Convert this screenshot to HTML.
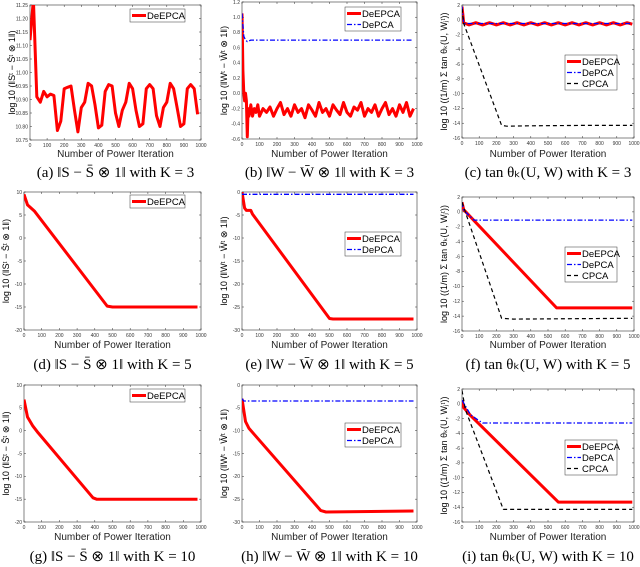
<!DOCTYPE html>
<html><head><meta charset="utf-8"><style>
body{margin:0;background:#fff;width:640px;height:567px;overflow:hidden}
svg{display:block}
text{font-family:"Liberation Sans",sans-serif}
.cap{font-family:"Liberation Serif",serif;font-size:15px}
</style></head><body>
<svg id="fig" width="640" height="567" viewBox="0 0 640 567" xmlns="http://www.w3.org/2000/svg"></svg>
<script>
const xA=[0,20,40,60,80,100,120,140,160,180,200,220,240,260,280,300,320,340,360,380,400,420,440,460,480,500,520,540,560,580,600,620,640,660,680,700,720,740,760,780,800,820,840,860,880,900,920,940,960,980];
const yA=[11.12,11.27,10.91,10.89,10.93,10.91,10.92,10.915,10.785,10.82,10.94,10.945,10.95,10.86,10.78,10.87,10.89,10.96,10.95,10.88,10.795,10.805,10.93,10.955,10.95,10.85,10.80,10.86,10.89,10.96,10.94,10.86,10.80,10.81,10.94,10.955,10.94,10.84,10.80,10.87,10.89,10.96,10.94,10.87,10.80,10.81,10.94,10.955,10.94,10.845];
const xB=[0,5,10,15,20,25,30,35,40,50,60,70,80,90,100,120,140,160,180,200,220,240,260,280,300,320,340,360,380,400,420,440,460,480,500,520,540,560,580,600,620,640,660,680,700,720,740,760,780,800,820,840,860,880,900,920,940,960,980];
const yB1=[1.05,0.3,0.0,-0.1,0.0,-0.1,-0.57,-0.2,-0.3,-0.15,-0.3,-0.2,-0.25,-0.15,-0.3,-0.2,-0.25,-0.18,-0.3,-0.2,-0.12,-0.28,-0.2,-0.3,-0.15,-0.25,-0.2,-0.32,-0.15,-0.22,-0.3,-0.12,-0.25,-0.2,-0.3,-0.15,-0.22,-0.28,-0.12,-0.25,-0.3,-0.18,-0.22,-0.12,-0.3,-0.2,-0.25,-0.15,-0.3,-0.2,-0.12,-0.28,-0.2,-0.3,-0.15,-0.25,-0.12,-0.3,-0.2];
const xB2=[0,5,10,20,30,50,100,500,980];
const yB2=[1.05,0.9,0.75,0.7,0.68,0.7,0.7,0.7,0.7];
const xC=[0,10,40,80,120,160,200,240,280,320,360,400,440,480,520,560,600,640,680,720,760,800,840,880,920,960,990];
const yC1=[1.8,-0.4,-0.7,-0.4,-0.7,-0.4,-0.7,-0.4,-0.7,-0.4,-0.7,-0.4,-0.7,-0.4,-0.7,-0.4,-0.7,-0.4,-0.7,-0.4,-0.7,-0.4,-0.7,-0.4,-0.7,-0.4,-0.6];
const xC2=[0,10,990]; const yC2=[1.8,-0.5,-0.5];
const xC3=[0,10,230,260,400,700,990]; const yC3=[1.5,-0.5,-14.3,-14.4,-14.35,-14.3,-14.3];
const xD=[0,20,60,470,500,980]; const yD=[9.5,7.2,5.8,-14.8,-15,-15];
const xE1=[0,15,25,50,60,500,520,980]; const yE1=[0,-3.5,-4,-4,-4.8,-27.5,-27.6,-27.6];
const xE2=[0,980]; const yE2=[-0.5,-0.5];
const xF1=[0,10,550,990]; const yF1=[1.3,0.3,-12.9,-12.9];
const xF2=[0,10,70,990]; const yF2=[1.3,0.2,-1.1,-1.1];
const xF3=[0,230,300,990]; const yF3=[1.3,-14.3,-14.4,-14.3];
const xG=[0,20,50,80,390,410,980]; const yG=[6.8,3,1,-0.5,-14.7,-15,-15];
const xH1=[0,20,40,450,480,980]; const yH1=[-3,-8,-9.5,-27.5,-27.8,-27.6];
const xH2=[0,10,980]; const yH2=[-3,-3.5,-3.5];
const xI1=[0,10,50,560,990]; const yI1=[0.5,-0.5,-1.6,-13.3,-13.3];
const xI2=[0,50,120,990]; const yI2=[0.5,-1.5,-2.6,-2.6];
const xI3=[0,20,240,990]; const yI3=[1.8,-0.8,-14.3,-14.3];

const NS="http://www.w3.org/2000/svg";
const svg=document.getElementById('fig');
function el(t,a,p){const e=document.createElementNS(NS,t);for(const k in a)e.setAttribute(k,a[k]);(p||svg).appendChild(e);return e;}
const ST={r:{stroke:'#f00','stroke-width':3},b:{stroke:'#00f','stroke-width':1.3,'stroke-dasharray':'5 2 1.5 2'},k:{stroke:'#000','stroke-width':1.2,'stroke-dasharray':'4 3'}};
const NAMES={r:'DeEPCA',b:'DePCA',k:'CPCA'};
let pid=0;
function panel(L,R,T,B,ymin,ymax,ystep,ylab,series,leg,xlY,cap,capY,dec){
  pid++;
  const g=el('g',{});
  
  
  const sx=v=>L+(v/1000)*(R-L), sy=v=>B-(v-ymin)/(ymax-ymin)*(B-T);
  el('rect',{x:L,y:T,width:R-L,height:B-T,fill:'#fff',stroke:'#333','stroke-width':0.6},g);
  for(let v=0;v<=1000;v+=100){const x=sx(v);
    el('line',{x1:x,y1:B,x2:x,y2:B-2,stroke:'#333','stroke-width':0.5},g);
    el('line',{x1:x,y1:T,x2:x,y2:T+2,stroke:'#333','stroke-width':0.5},g);
    const t=el('text',{x:x,y:B+7,'font-size':5,'text-anchor':'middle',fill:'#333'},g);t.textContent=v;}
  const n=Math.round((ymax-ymin)/ystep);
  for(let i=0;i<=n;i++){const v=ymin+i*ystep,y=sy(v);
    el('line',{x1:L,y1:y,x2:L+2,y2:y,stroke:'#333','stroke-width':0.5},g);
    el('line',{x1:R,y1:y,x2:R-2,y2:y,stroke:'#333','stroke-width':0.5},g);
    const t=el('text',{x:L-2,y:y+1.8,'font-size':5,'text-anchor':'end',fill:'#333'},g);t.textContent=v.toFixed(dec);}
  const cid='c'+pid;
  const cp=el('clipPath',{id:cid},g);el('rect',{x:L,y:T,width:R-L,height:B-T},cp);
  series.forEach(s=>{
    const pts=s.x.map((xv,i)=>sx(xv).toFixed(1)+','+sy(s.y[i]).toFixed(1)).join(' ');
    const a=Object.assign({points:pts,fill:'none','clip-path':'url(#'+cid+')','stroke-linejoin':'round'},ST[s.c]);
    const p=el('polyline',a,g);
    
    
  });
  const lg=el('g',{},g);
  
  
  el('rect',{x:leg[0],y:leg[1],width:leg[2],height:series.length*11+2,fill:'#fff',stroke:'#333','stroke-width':0.5},lg);
  series.forEach((s,i)=>{const y=leg[1]+6.5+i*11;
    el('line',Object.assign({x1:leg[0]+2,y1:y,x2:leg[0]+16,y2:y},ST[s.c]),lg);
    const t=el('text',{x:leg[0]+17,y:y+3.5,'font-size':9.5,fill:'#000'},lg);t.textContent=NAMES[s.c];});
  const yl=el('text',{x:0,y:0,'font-size':9,'text-anchor':'middle','font-family':'Liberation Serif, serif',transform:`translate(${L-15},${(T+B)/2}) rotate(-90)`},g);
  yl.textContent=ylab;
  
  
  const xl=el('text',{x:(L+R)/2,y:xlY,'font-size':10,'text-anchor':'middle',fill:'#222'},g);
  xl.textContent='Number of Power Iteration';
  
  
  const c=el('text',{x:(L+R)/2,y:capY,'text-anchor':'middle','class':'cap'},g);
  c.textContent=cap;
  
  
}
const lS='log 10 (‖Sᵗ − S̄ᵗ ⊗ 1‖)', lW='log 10 (‖Wᵗ − W̄ᵗ ⊗ 1‖)', lT='log 10 ((1/m) Σ tan θₖ(U, Wⱼᵗ))';
panel(30,201,5,140,10.75,11.25,0.05,lS,[{x:xA,y:yA,c:'r'}],[130,9,55],157,'(a)  ‖S − S̄ ⊗ 1‖ with K = 3',177,2);
panel(242,417,2,139,-0.6,1.2,0.2,lW,[{x:xB,y:yB1,c:'r'},{x:xB2,y:yB2,c:'b'}],[345,7,56],157,'(b)  ‖W − W̄ ⊗ 1‖ with K = 3',177,1);
panel(462,634,5,138,-16,2,2,lT,[{x:xC,y:yC1,c:'r'},{x:xC2,y:yC2,c:'b'},{x:xC3,y:yC3,c:'k'}],[565,55,52],157,'(c)  tan θₖ(U, W) with K = 3',177,0);
panel(24,201,192,330,-20,10,5,lS,[{x:xD,y:yD,c:'r'}],[130,195,55],348,'(d)  ‖S − S̄ ⊗ 1‖ with K = 5',369,0);
panel(242,417,192,330,-30,0,5,lW,[{x:xE1,y:yE1,c:'r'},{x:xE2,y:yE2,c:'b'}],[345,232,56],348,'(e)  ‖W − W̄ ⊗ 1‖ with K = 5',369,0);
panel(462,634,197,331,-16,2,2,lT,[{x:xF1,y:yF1,c:'r'},{x:xF2,y:yF2,c:'b'},{x:xF3,y:yF3,c:'k'}],[565,247,52],348,'(f)  tan θₖ(U, W) with K = 5',369,0);
panel(24,201,385,522,-20,10,5,lS,[{x:xG,y:yG,c:'r'}],[130,389,55],540,'(g)  ‖S − S̄ ⊗ 1‖ with K = 10',561,0);
panel(242,417,385,522,-30,0,5,lW,[{x:xH1,y:yH1,c:'r'},{x:xH2,y:yH2,c:'b'}],[345,423,56],540,'(h)  ‖W − W̄ ⊗ 1‖ with K = 10',561,0);
panel(462,634,389,522,-16,2,2,lT,[{x:xI1,y:yI1,c:'r'},{x:xI2,y:yI2,c:'b'},{x:xI3,y:yI3,c:'k'}],[565,440,52],540,'(i)  tan θₖ(U, W) with K = 10',561,0);
</script>
</body></html>
